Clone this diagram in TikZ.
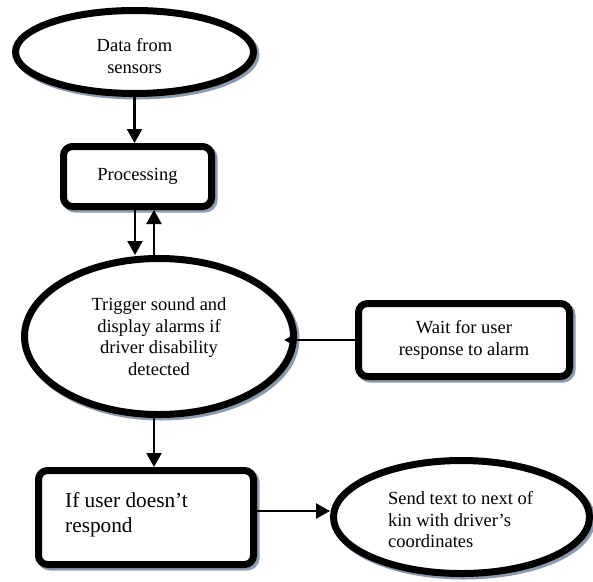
\documentclass[tikz,border=0pt]{standalone}
\usepackage{fontspec}
\setmainfont{Liberation Serif}
\usetikzlibrary{shapes.geometric,arrows.meta,calc}
\definecolor{shadowc}{RGB}{140,154,174}
\tikzset{
  shapebase/.style={draw=black, line width=7pt, fill=white, inner sep=0pt},
  shadowonly/.style={draw=shadowc, line width=7pt, inner sep=0pt},
  ovalsh/.style={shadowonly, ellipse},
  rboxsh/.style={shadowonly, rectangle, rounded corners=9pt},
  oval/.style={shapebase, ellipse},
  rbox/.style={shapebase, rectangle, rounded corners=9pt},
  txt/.style={font=\fontsize{18.5}{21.5}\selectfont, align=center, inner sep=0pt},
  bigtxt/.style={font=\fontsize{21.3}{25}\selectfont, align=left, inner sep=0pt},
  arr/.style={line width=2.2pt, -{Triangle[length=14pt,width=15pt]}},
  arrsmall/.style={line width=2pt, -{Triangle[length=8pt,width=8pt]}},
}
\begin{document}
\begin{tikzpicture}[x=1pt,y=-1pt]
\useasboundingbox (0,0) rectangle (593,581);
% shadows
\node[ovalsh, minimum width=238pt, minimum height=83pt] (datash) at (137,54.5) {};
\node[rboxsh, minimum width=148pt, minimum height=60pt] (procsh) at (140,179) {};
\node[ovalsh, minimum width=269pt, minimum height=156pt] (trigsh) at (161.5,339) {};
\node[rboxsh, minimum width=211pt, minimum height=73pt] (waitsh) at (466.5,342.5) {};
\node[rboxsh, minimum width=215pt, minimum height=94pt] (ifusersh) at (148.5,520) {};
\node[ovalsh, minimum width=256pt, minimum height=113pt] (sendsh) at (464,519.5) {};
% shapes
\node[oval, minimum width=238pt, minimum height=83pt] (data) at (134.5,52) {};
\node[txt] (datatxt) at (134.5,56) {Data from\\sensors};
\node[rbox, minimum width=148pt, minimum height=60pt, txt] (proc) at (137.5,176.5) {Processing};
\node[oval, minimum width=269pt, minimum height=156pt, txt] (trig) at (159,336.5)
  {Trigger sound and\\display alarms if\\driver disability\\detected};
\node[rbox, minimum width=211pt, minimum height=73pt, txt] (wait) at (464,340)
  {Wait for user\\response to alarm};
\node[rbox, minimum width=215pt, minimum height=94pt] (ifuser) at (146,517.5) {};
\node[bigtxt, anchor=west] (iftxt) at (65,514.5) {If user doesn’t\\respond};
\node[oval, minimum width=256pt, minimum height=113pt] (send) at (461.5,517) {};
\node[txt, align=left] (sendtxt) at (460.5,520)
  {Send text to next of\\kin with driver’s\\coordinates};
% connectors
\draw[arr] (data.south) -- (data.south |- proc.north);
\coordinate (pd) at ($(proc.south)+(-2.5,0)$);
\coordinate (pu) at ($(proc.south)+(16.5,0)$);
\draw[arr] (pd) -- (pd |- trig.north);
\draw[arr] (pu |- trig.north) -- (pu);
\coordinate (td) at ($(ifuser.north)+(8,0)$);
\draw[arr] (td |- trig.south) -- (td);
\coordinate (wt) at ($(trig.east |- wait.west)+(-13,0)$);
\draw[arrsmall] (wait.west) -- (wt);
\coordinate (c1) at ($(ifuser.east)+(0,-6.5)$);
\draw[arr] (c1) -- (c1 -| send.west);
\end{tikzpicture}
\end{document}
